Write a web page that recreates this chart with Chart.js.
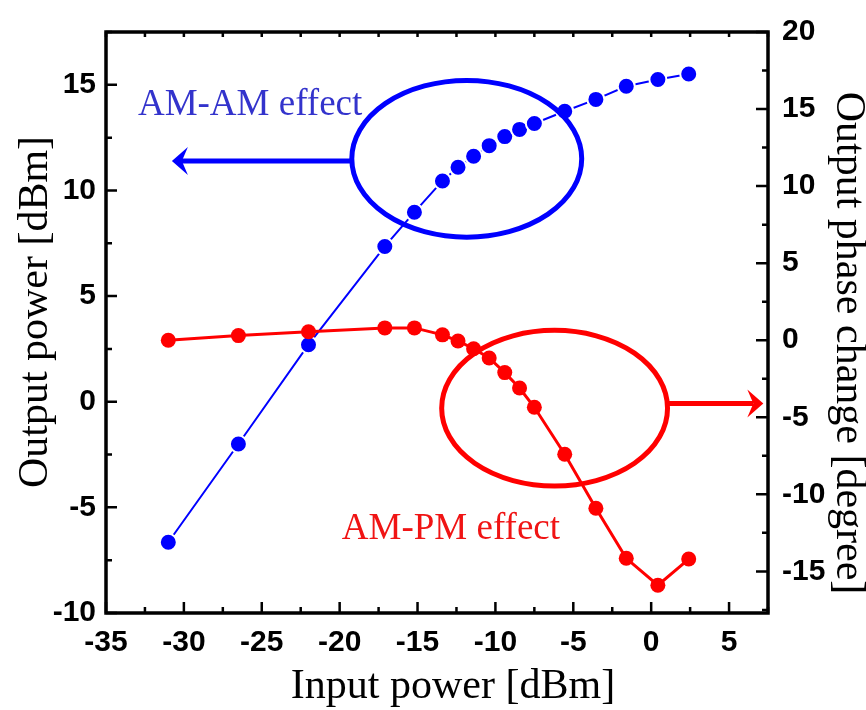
<!DOCTYPE html>
<html>
<head>
<meta charset="utf-8">
<script src="https://cdn.jsdelivr.net/npm/chart.js@4.4.1/dist/chart.umd.min.js"></script>
<style>
  body { margin: 0; background: #fff; }
  #wrap { width: 866px; height: 710px; }
</style>
</head>
<body>
<div id="wrap"><canvas id="graficaAmPm"></canvas></div>
<script>
// measured points, shared input power axis
const inputPower = [-31.0, -26.5, -22.0, -17.1, -15.2, -13.4, -12.4, -11.4, -10.4, -9.4, -8.45, -7.5, -5.55, -3.55, -1.6, 0.43, 2.41];
const outputPower = [-6.65, -2.0, 2.7, 7.35, 8.97, 10.45, 11.1, 11.62, 12.12, 12.55, 12.89, 13.17, 13.75, 14.31, 14.93, 15.25, 15.51];
const phaseChange = [0.0, 0.3, 0.55, 0.8, 0.8, 0.35, -0.05, -0.55, -1.15, -2.1, -3.1, -4.35, -7.4, -10.9, -14.15, -15.9, -14.2];

// axis ranges and tick step
const xRange = [-35, 7.5];
const leftRange = [-10, 17.5];
const rightRange = [-17.7, 20];
const tickStep = 2.5;
const labelStep = 5;

const xTitle = 'Input power [dBm]';
const leftTitle = 'Output power [dBm]';
const rightTitle = 'Output phase change [degree]';

const serif = '"Liberation Serif", "Times New Roman", serif';

function puntos(ys) {
    return inputPower.map((x, i) => ({ x: x, y: ys[i] }));
}

function etiqueta(v) {
    return Math.abs(v % labelStep) < 1e-6 ? String(Math.round(v)) : '';
}

function valoresEje(scale) {
    const vals = [];
    for (let v = Math.ceil(scale.min / tickStep) * tickStep; v <= scale.max + 1e-6; v += tickStep) vals.push(v);
    return vals;
}

// box frame plus inward tick marks (long on labelled values, short between)
const marco = {
    id: 'marco',
    afterDatasetsDraw(chart) {
        const { ctx, chartArea: a, scales } = chart;
        const largo = v => Math.abs(v % labelStep) < 1e-6;
        ctx.save();
        ctx.strokeStyle = '#000';
        ctx.lineWidth = 2.5;
        ctx.beginPath();
        valoresEje(scales.x).forEach(v => {
            const px = scales.x.getPixelForValue(v);
            ctx.moveTo(px, a.bottom);
            ctx.lineTo(px, a.bottom - (largo(v) ? 11 : 6));
            ctx.moveTo(px, a.top);
            ctx.lineTo(px, a.top + 5);
        });
        valoresEje(scales.y).forEach(v => {
            const py = scales.y.getPixelForValue(v);
            ctx.moveTo(a.left, py);
            ctx.lineTo(a.left + (largo(v) ? 11 : 6), py);
        });
        valoresEje(scales.y1).forEach(v => {
            const py = scales.y1.getPixelForValue(v);
            ctx.moveTo(a.right, py);
            ctx.lineTo(a.right - (largo(v) ? 12 : 6), py);
        });
        ctx.stroke();
        ctx.lineWidth = 3.5;
        ctx.strokeRect(a.left, a.top, a.right - a.left, a.bottom - a.top);
        ctx.restore();
    }
};

// axis titles, drawn by hand so each can sit where it should
const titulos = {
    id: 'titulos',
    afterDraw(chart) {
        const { ctx, chartArea: a } = chart;
        ctx.save();
        ctx.fillStyle = '#000';
        ctx.font = '42px ' + serif;
        ctx.textAlign = 'center';

        ctx.textBaseline = 'alphabetic';
        ctx.fillText(xTitle, a.left + 347, a.bottom + 85, 330);

        ctx.textBaseline = 'middle';
        ctx.save();
        ctx.translate(36, a.top + 280);
        ctx.rotate(-Math.PI / 2);
        ctx.fillText(leftTitle, 0, 0, 352);
        ctx.restore();

        ctx.save();
        ctx.translate(a.right + 80, a.top + 311);
        ctx.rotate(Math.PI / 2);
        ctx.fillText(rightTitle, 0, 0, 505);
        ctx.restore();
        ctx.restore();
    }
};

// ellipses, arrows and effect labels, placed in data units
const anotaciones = {
    id: 'anotaciones',
    afterDatasetsDraw(chart) {
        const { ctx, scales: { x, y, y1 } } = chart;

        function elipse(cx, cy, dx, dy, escalaY, color) {
            const px = x.getPixelForValue(cx);
            const py = escalaY.getPixelForValue(cy);
            const rx = x.getPixelForValue(cx + dx) - px;
            const ry = escalaY.getPixelForValue(cy - dy) - py;
            ctx.beginPath();
            ctx.ellipse(px, py, rx, ry, 0, 0, Math.PI * 2);
            ctx.strokeStyle = color;
            ctx.lineWidth = 5;
            ctx.stroke();
            return { px, py, rx, ry };
        }

        function flecha(x0, x1, py, color) {
            const dir = Math.sign(x1 - x0);
            ctx.beginPath();
            ctx.moveTo(x0, py);
            ctx.lineTo(x1 - dir * 10, py);
            ctx.strokeStyle = color;
            ctx.lineWidth = 5;
            ctx.stroke();
            ctx.beginPath();
            ctx.moveTo(x1, py);
            ctx.lineTo(x1 - dir * 16, py - 14);
            ctx.lineTo(x1 - dir * 10, py);
            ctx.lineTo(x1 - dir * 16, py + 14);
            ctx.closePath();
            ctx.fillStyle = color;
            ctx.fill();
        }

        ctx.save();
        const azul = elipse(-11.84, 11.5, 7.38, 3.71, y, '#0000ff');
        flecha(azul.px - azul.rx, x.getPixelForValue(-30.77), y.getPixelForValue(11.39), '#0000ff');

        const roja = elipse(-6.2, -4.41, 7.25, 5.05, y1, '#ff0000');
        flecha(roja.px + roja.rx, x.getPixelForValue(7.2), y1.getPixelForValue(-4.1), '#ff0000');

        ctx.font = '37px ' + serif;
        ctx.textBaseline = 'alphabetic';
        ctx.textAlign = 'left';
        ctx.fillStyle = '#3333cc';
        ctx.fillText('AM-AM effect', x.getPixelForValue(-32.95), y.getPixelForValue(13.58));
        ctx.fillStyle = '#f01414';
        ctx.fillText('AM-PM effect', x.getPixelForValue(-19.86), y1.getPixelForValue(-12.89));
        ctx.restore();
    }
};

const ticksComunes = {
    color: '#000',
    font: { family: '"Liberation Sans", Arial, sans-serif', size: 30, weight: 'bold' },
    autoSkip: false,
    maxRotation: 0,
    stepSize: tickStep,
    callback: etiqueta
};
const sinRejilla = { display: false, drawTicks: false };

const ctx = document.getElementById('graficaAmPm').getContext('2d');
const grafica = new Chart(ctx, {
    type: 'line',
    data: {
        datasets: [{
            label: 'AM-AM',
            data: puntos(outputPower),
            yAxisID: 'y',
            borderColor: '#0000ff',
            borderWidth: 2,
            pointRadius: 8.5,
            pointBackgroundColor: '#0000ff',
            pointBorderColor: '#ffffff',
            pointBorderWidth: 2,
            order: 1
        }, {
            label: 'AM-PM',
            data: puntos(phaseChange),
            yAxisID: 'y1',
            borderColor: '#ff0000',
            borderWidth: 3,
            pointRadius: 7.5,
            pointBackgroundColor: '#ff0000',
            pointBorderColor: '#ff0000',
            pointBorderWidth: 0,
            order: 0
        }]
    },
    options: {
        responsive: true,
        maintainAspectRatio: false,
        animation: false,
        layout: { padding: { top: 24, left: 0, right: 0, bottom: 0 } },
        plugins: { legend: { display: false }, tooltip: { enabled: false } },
        scales: {
            x: {
                type: 'linear',
                position: 'bottom',
                min: xRange[0],
                max: xRange[1],
                grid: sinRejilla,
                border: { display: false },
                ticks: Object.assign({}, ticksComunes, { padding: 12 }),
                afterFit: s => { s.height = 97; }
            },
            y: {
                type: 'linear',
                position: 'left',
                min: leftRange[0],
                max: leftRange[1],
                grid: sinRejilla,
                border: { display: false },
                ticks: Object.assign({}, ticksComunes, { padding: 10 }),
                afterFit: s => { s.width = 106; }
            },
            y1: {
                type: 'linear',
                position: 'right',
                min: rightRange[0],
                max: rightRange[1],
                grid: sinRejilla,
                border: { display: false },
                ticks: Object.assign({}, ticksComunes, { padding: 14 }),
                afterFit: s => { s.width = 98; }
            }
        }
    },
    plugins: [marco, anotaciones, titulos]
});
</script>
</body>
</html>
